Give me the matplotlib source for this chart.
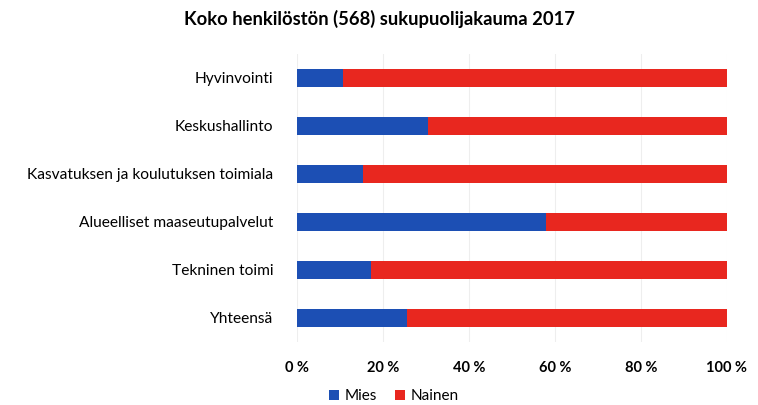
import numpy as np
import matplotlib
matplotlib.use('Agg')
import matplotlib.pyplot as plt
from matplotlib.ticker import FuncFormatter

plt.rcParams['font.family'] = ['Lato', 'DejaVu Sans']

kategoriat = ['Hyvinvointi', 'Keskushallinto', 'Kasvatuksen ja koulutuksen toimiala',
              'Alueelliset maaseutupalvelut', 'Tekninen toimi', 'Yhteensä']
mies = [10.7, 30.4, 15.3, 57.9, 17.2, 25.5]
nainen = [89.3, 69.6, 84.7, 42.1, 82.8, 74.5]

fig = plt.figure(figsize=(7.58, 4.05), dpi=100)
ax = fig.add_axes([0.392, 0.156, 0.567, 0.711])

y = np.arange(len(kategoriat))
korkeus = 0.38
ax.barh(y, mies, height=korkeus, color='#1c4fb4', label='Mies')
ax.barh(y, nainen, left=mies, height=korkeus, color='#e8271f', label='Nainen')

ax.set_xlim(0, 100)
ax.set_ylim(len(kategoriat) - 0.5, -0.5)
ax.set_yticks(y)
ax.set_yticklabels(kategoriat, fontsize=11.2)
ax.set_xticks([0, 20, 40, 60, 80, 100])
ax.xaxis.set_major_formatter(FuncFormatter(lambda v, p: '%d %%' % v))
ax.tick_params(axis='x', labelsize=10.5, length=0, pad=14)
ax.tick_params(axis='y', length=0, pad=17)
for lbl in ax.get_xticklabels():
    lbl.set_fontweight('bold')
ax.grid(axis='x', color='#eeeeee', linewidth=0.8)
ax.set_axisbelow(True)
for s in ax.spines.values():
    s.set_visible(False)

fig.suptitle('Koko henkilöstön (568) sukupuolijakauma 2017', x=0.5, y=0.975,
             fontsize=13.2, fontweight='bold')
fig.legend(loc='center', bbox_to_anchor=(0.52, 0.022), ncol=2, frameon=False,
           fontsize=11, handlelength=0.6, handleheight=0.6, handletextpad=0.4,
           columnspacing=1.2)

fig.savefig('out.png', dpi=100)
